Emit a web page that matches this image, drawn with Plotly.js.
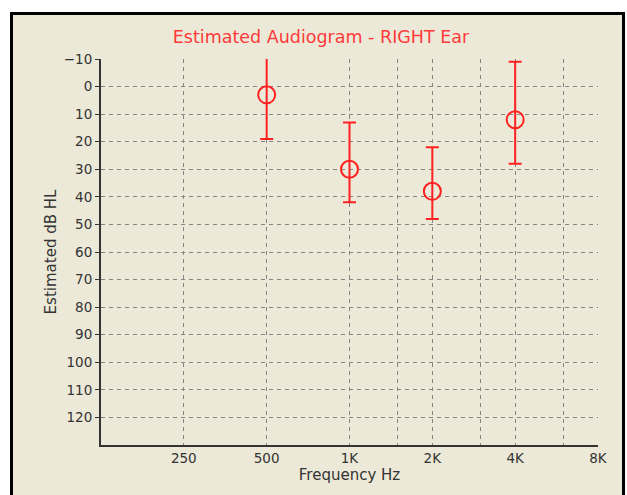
<!DOCTYPE html>
<html>
<head>
<meta charset="utf-8">
<script src="https://cdn.plot.ly/plotly-3.0.1.min.js"></script>
<style>
  html, body { margin: 0; padding: 0; background: #ffffff; }
  #wrap { position: relative; width: 627px; height: 495px; overflow: hidden; }
  #frame { position: absolute; left: 10px; top: 12px; width: 609px; height: 500px;
           background: #ECE9D8; border: 3px solid #000; }
  #chart { position: absolute; left: 0; top: 0; width: 627px; height: 495px; }
</style>
</head>
<body>
<div id="wrap">
  <div id="frame"></div>
  <div id="chart"></div>
</div>
<script>
// Data
const frequencies = [500, 1000, 2000, 4000];
const thresholds  = [3, 30, 38, 12];
const errUpper    = [16, 17, 16, 21];   // toward lower dB values (drawn upward)
const errLower    = [16, 12, 10, 16];   // toward higher dB values (drawn downward)

const xTickVals = [250, 500, 1000, 1500, 2000, 3000, 4000, 6000, 8000];
const xTickText = ['250', '500', '1K', '', '2K', '', '4K', '', '8K'];
const yTickVals = [-10, 0, 10, 20, 30, 40, 50, 60, 70, 80, 90, 100, 110, 120];

const red = '#ff2020';
const fontFam = 'DejaVu Sans, Verdana, sans-serif';

const trace = {
  x: frequencies,
  y: thresholds,
  type: 'scatter',
  mode: 'markers',
  marker: { symbol: 'circle-open', size: 17, color: red, line: { width: 2, color: red } },
  error_y: {
    type: 'data', symmetric: false,
    array: errLower, arrayminus: errUpper,
    color: red, thickness: 2, width: 6.5
  },
  cliponaxis: true,
  hoverinfo: 'none'
};

const layout = {
  width: 627, height: 495,
  margin: { l: 101, r: 29, t: 59, b: 50 },
  paper_bgcolor: 'rgba(0,0,0,0)',
  plot_bgcolor: 'rgba(0,0,0,0)',
  showlegend: false,
  font: { family: fontFam, size: 13.5, color: '#333333' },
  title: {
    text: 'Estimated Audiogram - RIGHT Ear',
    font: { family: fontFam, size: 17.5, color: '#ff3a3a' },
    x: 0.512, xanchor: 'center', y: 1 - 36.5/495, yanchor: 'middle'
  },
  xaxis: {
    type: 'log',
    range: [Math.log10(125), Math.log10(8000)],
    tickvals: xTickVals, ticktext: xTickText,
    showgrid: true, gridcolor: '#858585', griddash: '4px,4px', gridwidth: 1,
    showline: true, linecolor: '#333333', linewidth: 2,
    ticks: '', zeroline: false,
    tickfont: { family: fontFam, size: 13.5, color: '#333333' },
    title: { text: 'Frequency Hz', font: { family: fontFam, size: 15, color: '#333333' }, standoff: 4 }
  },
  yaxis: {
    range: [130, -10],
    tickvals: yTickVals,
    showgrid: true, gridcolor: '#858585', griddash: '4px,4px', gridwidth: 1,
    showline: true, linecolor: '#333333', linewidth: 2,
    ticks: 'outside', ticklen: 4, tickcolor: '#333333', tickwidth: 1,
    zeroline: false,
    tickfont: { family: fontFam, size: 13.5, color: '#333333' },
    title: { text: 'Estimated dB HL', font: { family: fontFam, size: 15, color: '#333333' }, standoff: 4 }
  }
};

Plotly.newPlot('chart', [trace], layout, { displayModeBar: false, staticPlot: true });
</script>
</body>
</html>
